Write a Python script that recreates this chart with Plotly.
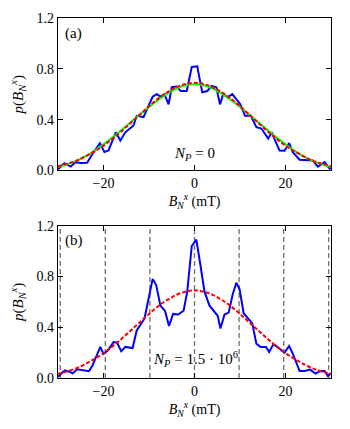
import plotly.graph_objects as go
from plotly.subplots import make_subplots

# ---- data ----
x_a = [-30.0, -28.6, -27.2, -26.2, -25.0, -23.6, -22.6, -20.8, -19.8, -18.9, -17.3, -16.3,
       -15.2, -14.0, -13.4, -12.7, -11.2, -10.2, -9.2, -8.3, -7.4, -6.6, -5.7, -5.0, -4.0,
       -3.0, -1.7, -0.6, 0.6, 1.7, 2.8, 3.8, 4.8, 5.6, 6.3, 7.3, 8.3, 9.3, 10.0, 11.1, 12.4,
       13.6, 14.7, 16.2, 17.0, 17.7, 18.7, 19.8, 20.8, 21.6, 23.1, 26.0, 27.1, 28.6, 29.7, 30.0]
p_a = [0.01, 0.057, 0.03, 0.065, 0.058, 0.06, 0.12, 0.215, 0.145, 0.157, 0.30, 0.236,
       0.30, 0.34, 0.354, 0.43, 0.42, 0.50, 0.58, 0.60, 0.58, 0.60, 0.52, 0.655, 0.66,
       0.625, 0.625, 0.815, 0.82, 0.615, 0.625, 0.665, 0.655, 0.52, 0.60, 0.575, 0.60, 0.555,
       0.525, 0.43, 0.43, 0.34, 0.33, 0.25, 0.30, 0.236, 0.157, 0.155, 0.215, 0.144, 0.084,
       0.079, 0.03, 0.065, 0.013, 0.02]

x_b = [-30.0, -28.5, -27.3, -26.8, -25.8, -24.7, -23.2, -22.4, -20.7, -20.0, -19.0, -17.8,
       -17.0, -16.1, -15.2, -13.6, -12.7, -11.0, -10.2, -9.2, -8.4, -7.5, -6.5, -5.6, -4.7,
       -3.6, -2.4, -1.6, -0.6, 0.4, 1.3, 2.2, 3.3, 4.4, 5.1, 5.7, 6.6, 7.5, 8.4, 9.2, 9.9,
       10.8, 11.8, 12.7, 13.6, 14.5, 15.7, 16.4, 17.3, 18.0, 19.1, 19.8, 20.8, 21.6, 23.1,
       24.2, 25.4, 26.6, 27.5, 28.6, 29.3, 30.0]
p_b = [0.01, 0.06, 0.047, 0.035, 0.068, 0.06, 0.053, 0.10, 0.245, 0.19, 0.218, 0.283,
       0.278, 0.21, 0.245, 0.236, 0.375, 0.467, 0.60, 0.78, 0.73, 0.57, 0.53, 0.41, 0.505,
       0.50, 0.53, 0.68, 1.04, 1.09, 0.89, 0.68, 0.57, 0.525, 0.49, 0.39, 0.50, 0.515, 0.66,
       0.75, 0.70, 0.51, 0.467, 0.43, 0.27, 0.245, 0.245, 0.205, 0.263, 0.252, 0.218, 0.20,
       0.252, 0.192, 0.055, 0.055, 0.066, 0.035, 0.053, 0.055, 0.016, 0.035]

x_fit = [-30, -28, -26, -24, -22, -20, -18, -16, -14, -12, -10, -8, -6, -4, -2, 0,
         2, 4, 6, 8, 10, 12, 14, 16, 18, 20, 22, 24, 26, 28, 30]
p_red = [0.033, 0.052, 0.076, 0.11, 0.15, 0.195, 0.25, 0.31, 0.375, 0.44, 0.505, 0.565,
         0.615, 0.655, 0.68, 0.69, 0.68, 0.655, 0.615, 0.565, 0.505, 0.44, 0.375, 0.31,
         0.25, 0.195, 0.15, 0.11, 0.076, 0.052, 0.033]
p_green = [0.028, 0.048, 0.075, 0.11, 0.155, 0.205, 0.26, 0.32, 0.38, 0.44, 0.50, 0.555,
           0.605, 0.645, 0.67, 0.678, 0.67, 0.645, 0.605, 0.555, 0.50, 0.44, 0.38, 0.32,
           0.26, 0.205, 0.155, 0.11, 0.075, 0.048, 0.028]

resonance_lines = [-29.5, -19.6, -9.8, 0.0, 9.8, 19.6, 29.5]

x_ticks = [-20, 0, 20]
y_ticks = [0.0, 0.4, 0.8, 1.2]

FONT = "Liberation Serif"

fig = make_subplots(rows=2, cols=1, vertical_spacing=0.1538)

fig.add_trace(go.Scatter(x=x_a, y=p_a, mode="lines", line=dict(color="#0000ff", width=2)), row=1, col=1)
fig.add_trace(go.Scatter(x=x_fit, y=p_green, mode="lines", line=dict(color="#00ff00", width=2, shape="spline")), row=1, col=1)
fig.add_trace(go.Scatter(x=x_fit, y=p_red, mode="lines", line=dict(color="#ff0000", width=2, dash="4px,2px", shape="spline")), row=1, col=1)

fig.add_trace(go.Scatter(x=x_b, y=p_b, mode="lines", line=dict(color="#0000ff", width=2)), row=2, col=1)
fig.add_trace(go.Scatter(x=x_fit, y=p_red, mode="lines", line=dict(color="#ff0000", width=2, dash="4px,2px", shape="spline")), row=2, col=1)

for xv in resonance_lines:
    fig.add_shape(type="line", x0=xv, x1=xv, y0=0, y1=1, xref="x2", yref="y2 domain",
                  line=dict(color="#707070", width=1.3, dash="5px,3px"), layer="below")

ax_common = dict(range=[-30, 30], tickvals=x_ticks, ticks="inside", ticklen=5, tickwidth=1,
                 tickcolor="black", showline=True, linecolor="black", linewidth=1.2,
                 mirror="ticks", showgrid=False, zeroline=False,
                 tickfont=dict(family=FONT, size=14, color="black"),
                 title=dict(text="<i>B</i><sub><i>N</i></sub><sup><i>x</i></sup> (mT)",
                            font=dict(family=FONT, size=14, color="black"), standoff=0))
ay_common = dict(range=[0, 1.2], tickvals=y_ticks, tickformat=".1f", ticks="inside", ticklen=5,
                 tickwidth=1, tickcolor="black", showline=True, linecolor="black", linewidth=1.2,
                 mirror="ticks", showgrid=False, zeroline=False,
                 tickfont=dict(family=FONT, size=14, color="black"),
                 title=dict(text="<i>p</i>(<i>B</i><sub><i>N</i></sub><sup><i>x</i></sup>)",
                            font=dict(family=FONT, size=15, color="black"), standoff=17))

fig.update_xaxes(**ax_common)
fig.update_yaxes(**ay_common)
fig.update_layout(
    xaxis=dict(domain=[0, 1]), xaxis2=dict(domain=[0, 1]),
    yaxis=dict(domain=[0.5766, 1.0]), yaxis2=dict(domain=[0.0, 0.4231]),
)

annots = [
    dict(text="(a)", x=0.02, y=0.97, xref="x domain", yref="y domain", xanchor="left", yanchor="top"),
    dict(text="(b)", x=0.02, y=0.97, xref="x2 domain", yref="y2 domain", xanchor="left", yanchor="top"),
    dict(text="<i>N</i><sub><i>P</i></sub> = 0", x=0, y=0.13, xref="x", yref="y", xanchor="center", yanchor="middle"),
    dict(text="<i>N</i><sub><i>P</i></sub> = 1.5 · 10<sup>6</sup>", x=0.2, y=0.15, xref="x2", yref="y2",
         xanchor="center", yanchor="middle"),
]
for a in annots:
    fig.add_annotation(showarrow=False, font=dict(family=FONT, size=15, color="black"), **a)

# page body has an 8px default margin; the figure is sized to fit the 350x429 window
fig.update_layout(
    width=342, height=421, showlegend=False,
    margin=dict(l=49.5, r=18.5, t=9.5, b=51.3, autoexpand=False),
    paper_bgcolor="white", plot_bgcolor="white",
    font=dict(family=FONT, color="black"),
)

fig.write_html("out.html")
